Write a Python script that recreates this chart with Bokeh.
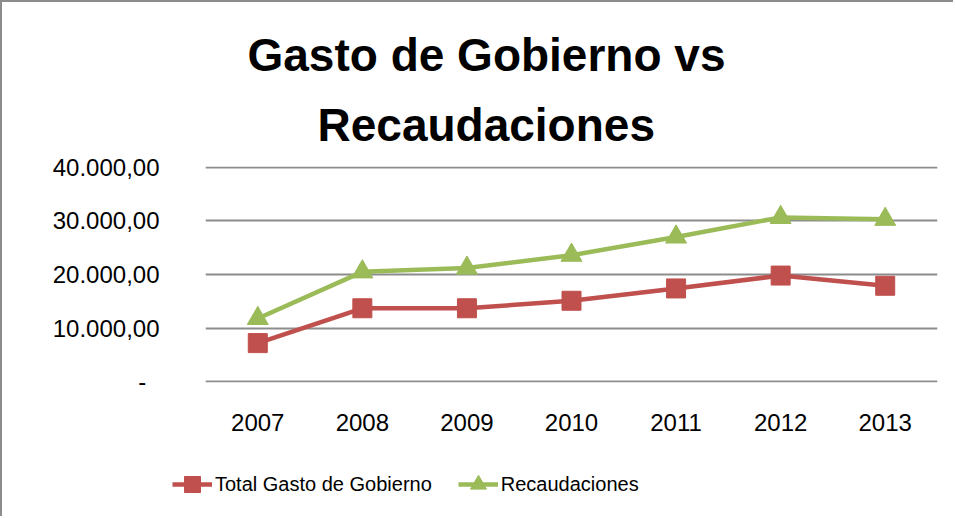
from bokeh.plotting import figure
from bokeh.models import FactorRange, Range1d, FixedTicker, Title, Legend, LegendItem
from bokeh.embed import file_html
from bokeh.resources import INLINE

years = ["2007", "2008", "2009", "2010", "2011", "2012", "2013"]
gasto = [7200, 13700, 13700, 15100, 17400, 19800, 17900]
recaudaciones = [11800, 20500, 21200, 23600, 27000, 30650, 30300]
y_ticks = [0, 10000, 20000, 30000, 40000]
y_tick_labels = ["-\u00a0\u00a0", "10.000,00", "20.000,00", "30.000,00", "40.000,00"]
title_lines = ["Gasto de Gobierno vs", "Recaudaciones"]
series_names = ["Total Gasto de Gobierno", "Recaudaciones"]

FONT = "Liberation Sans"
RED = "#C0504D"
GREEN = "#9BBB59"
GRID = "#8c8c8c"
BORDER = "2px solid #8c8c8c"

p = figure(width=953, height=440, x_range=FactorRange(*years, range_padding=0),
           y_range=Range1d(-150, 40150), output_backend="svg", toolbar_location=None,
           min_border_left=203, min_border_right=18, min_border_top=164, min_border_bottom=60,
           styles={"border-left": BORDER, "border-top": BORDER})
p.title = None
p.outline_line_color = None
p.xgrid.grid_line_color = None
p.ygrid.grid_line_color = GRID
p.ygrid.grid_line_width = 2
p.background_fill_color = "white"
p.border_fill_color = "white"

p.yaxis.ticker = FixedTicker(ticks=y_ticks)
p.yaxis.major_label_overrides = {t: l for t, l in zip(y_ticks, y_tick_labels)}
for ax in (p.xaxis[0], p.yaxis[0]):
    ax.axis_line_color = None
    ax.major_tick_line_color = None
    ax.minor_tick_line_color = None
    ax.major_tick_out = 0
    ax.major_tick_in = 0
    ax.major_label_text_font = FONT
    ax.major_label_text_font_size = "24px"
    ax.major_label_text_color = "black"
p.yaxis.major_label_standoff = 46
p.xaxis.major_label_standoff = 31

series = [gasto, recaudaciones]
line_style = [dict(line_color=RED, line_width=4.5), dict(line_color=GREEN, line_width=4.5)]
marker_style = [dict(marker="square", size=19, fill_color=RED, line_color=RED),
                dict(marker="triangle", size=21, fill_color=GREEN, line_color=GREEN)]

for vals, ls, ms in zip(series, line_style, marker_style):
    p.line(years, vals, **ls)
    p.scatter(years, vals, **ms)

offsets = [42, 112]
standoffs = [0, 32]
for line, off, so in reversed(list(zip(title_lines, offsets, standoffs))):
    t = Title(text=line, align="left", offset=off, text_font=FONT, text_font_size="46px",
              text_font_style="bold", text_color="black", standoff=so)
    p.add_layout(t, "above")

# legend strip below the chart (its series lie outside its visible y range)
pl = figure(width=953, height=76, x_range=FactorRange(*years), y_range=Range1d(-2, -1),
            x_axis_location=None, y_axis_location=None, min_border=0,
            output_backend="svg", toolbar_location=None,
            styles={"border-left": BORDER})
pl.grid.visible = False
pl.outline_line_color = None
pl.background_fill_color = "white"
pl.border_fill_color = "white"
items = []
for name, vals, ls, ms in zip(series_names, series, line_style, marker_style):
    rl = pl.line(years, vals, **ls)
    rm = pl.scatter(years, vals, **ms)
    items.append(LegendItem(label=name, renderers=[rl, rm]))
legend = Legend(items=items, orientation="horizontal", location=(170, 8),
                label_text_font=FONT, label_text_font_size="20px", label_text_color="black",
                glyph_width=40, glyph_height=48, label_standoff=3, spacing=26,
                padding=0, margin=0, border_line_color=None, background_fill_alpha=0)
pl.add_layout(legend, "center")

open("out.html", "w").write(file_html([p, pl], INLINE))
